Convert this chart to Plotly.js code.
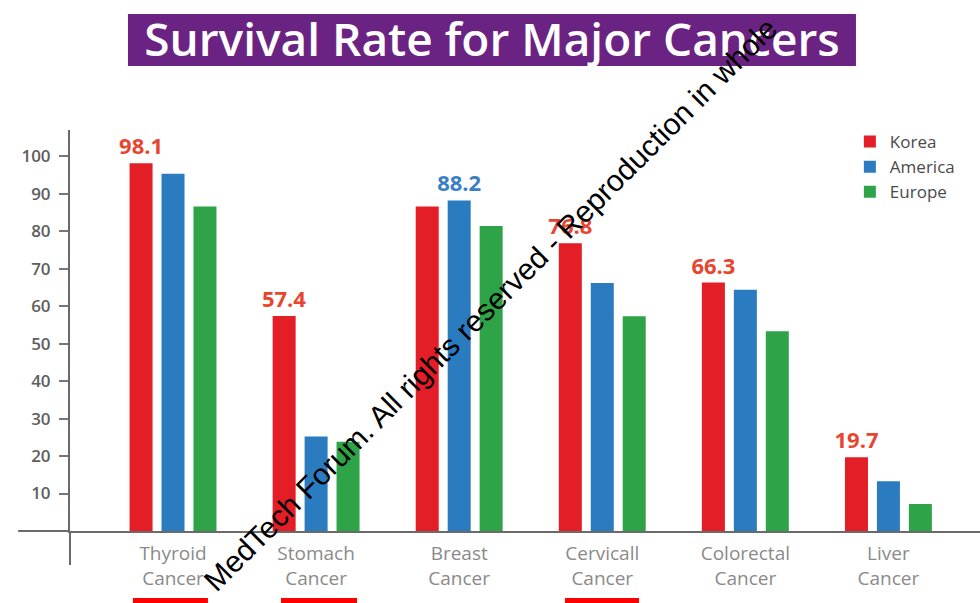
<!DOCTYPE html>
<html>
<head>
<meta charset="utf-8">
<script src="https://cdn.plot.ly/plotly-3.0.1.min.js"></script>
<style>
  html, body { margin: 0; padding: 0; background: #ffffff; }
  #chart { width: 980px; height: 603px; }
</style>
</head>
<body>
<div id="chart"></div>
<script>
// Survival rate data
const cancers = ['Thyroid<br>Cancer', 'Stomach<br>Cancer', 'Breast<br>Cancer', 'Cervicall<br>Cancer', 'Colorectal<br>Cancer', 'Liver<br>Cancer'];
const korea = [98.1, 57.4, 86.6, 76.8, 66.3, 19.7];
const america = [95.3, 25.2, 88.2, 66.2, 64.4, 13.3];
const europe = [86.6, 23.8, 81.4, 57.3, 53.3, 7.2];
const koreaLabels = ['98.1', '57.4', '', '76.8', '66.3', '19.7'];
const americaLabels = ['', '', '88.2', '', '', ''];
const yTicks = [10, 20, 30, 40, 50, 60, 70, 80, 90, 100];

const labelFont = { family: 'Open Sans, sans-serif', size: 22, weight: 700 };

const traces = [
    {
        name: 'Korea',
        type: 'bar',
        x: cancers,
        y: korea,
        text: koreaLabels,
        textposition: 'outside',
        constraintext: 'none',
        textangle: 0,
        cliponaxis: false,
        textfont: Object.assign({ color: '#e8452f' }, labelFont),
        marker: { color: '#e41e26' },
        hoverinfo: 'y+name'
    },
    {
        name: 'America',
        type: 'bar',
        x: cancers,
        y: america,
        text: americaLabels,
        textposition: 'outside',
        constraintext: 'none',
        textangle: 0,
        cliponaxis: false,
        textfont: Object.assign({ color: '#3a7fc4' }, labelFont),
        marker: { color: '#2a7bc0' },
        hoverinfo: 'y+name'
    },
    {
        name: 'Europe',
        type: 'bar',
        x: cancers,
        y: europe,
        marker: { color: '#2ea347' },
        hoverinfo: 'y+name'
    }
];

const layout = {
    width: 980,
    height: 603,
    margin: { l: 70, r: 0, t: 130, b: 72 },
    paper_bgcolor: '#ffffff',
    plot_bgcolor: '#ffffff',
    barmode: 'group',
    bargap: 0.33,
    bargroupgap: 0.28,
    title: {
        text: 'Survival Rate for Major Cancers',
        font: { family: 'Open Sans, sans-serif', size: 46, weight: 600, color: '#ffffff' },
        xref: 'container',
        yref: 'container',
        x: 0.502,
        xanchor: 'center',
        y: 0.934,
        yanchor: 'middle'
    },
    xaxis: {
        type: 'category',
        range: [-0.72, 5.64],
        showline: true,
        linecolor: '#6a6a6a',
        linewidth: 2,
        ticks: '',
        showgrid: false,
        ticklabelstandoff: 4,
        tickfont: { family: 'Open Sans, sans-serif', size: 19, color: '#8a8a8a' }
    },
    yaxis: {
        range: [0, 107],
        tickvals: yTicks,
        showline: true,
        linecolor: '#6a6a6a',
        linewidth: 2,
        ticks: 'outside',
        ticklen: 9,
        tickwidth: 2,
        tickcolor: '#777777',
        ticklabelstandoff: 5,
        showgrid: false,
        zeroline: false,
        tickfont: { family: 'Open Sans, sans-serif', size: 17, weight: 600, color: '#5e5e5e' }
    },
    legend: {
        x: 0.857,
        y: 1.015,
        xanchor: 'left',
        yanchor: 'top',
        bgcolor: 'rgba(0,0,0,0)',
        font: { family: 'Open Sans, sans-serif', size: 17, color: '#4a4a4a' },
        tracegroupgap: 0
    },
    shapes: [
        // purple title box
        { type: 'rect', xref: 'paper', yref: 'paper', x0: 0.0637, x1: 0.8637, y0: 1.1596, y1: 1.2893,
          fillcolor: '#6b2383', line: { width: 0 }, layer: 'below' },
        // axis line extensions past the crossing
        { type: 'line', xref: 'paper', yref: 'paper', x0: -0.057, x1: 0, y0: 0, y1: 0,
          line: { color: '#6a6a6a', width: 2 } },
        { type: 'line', xref: 'paper', yref: 'paper', x0: 0, x1: 0, y0: 0, y1: -0.085,
          line: { color: '#6a6a6a', width: 2 } },
        // red marks along the bottom edge
        { type: 'rect', xref: 'paper', yref: 'paper', x0: 0.0692, x1: 0.1516, y0: -0.167, y1: -0.185,
          fillcolor: '#ff0000', line: { width: 0 } },
        { type: 'rect', xref: 'paper', yref: 'paper', x0: 0.2319, x1: 0.3154, y0: -0.167, y1: -0.185,
          fillcolor: '#ff0000', line: { width: 0 } },
        { type: 'rect', xref: 'paper', yref: 'paper', x0: 0.544, x1: 0.6253, y0: -0.167, y1: -0.185,
          fillcolor: '#ff0000', line: { width: 0 } }
    ],
    annotations: [
        {
            text: 'MedTech Forum. All rights reserved - Reproduction in whole',
            xref: 'paper', yref: 'paper',
            x: 0.462, y: 0.564,
            xanchor: 'center', yanchor: 'middle',
            textangle: -45,
            showarrow: false,
            font: { family: 'Liberation Sans, Arial, sans-serif', size: 30, color: '#000000' }
        }
    ]
};

Plotly.newPlot('chart', traces, layout, { displayModeBar: false, staticPlot: true });
</script>
</body>
</html>
